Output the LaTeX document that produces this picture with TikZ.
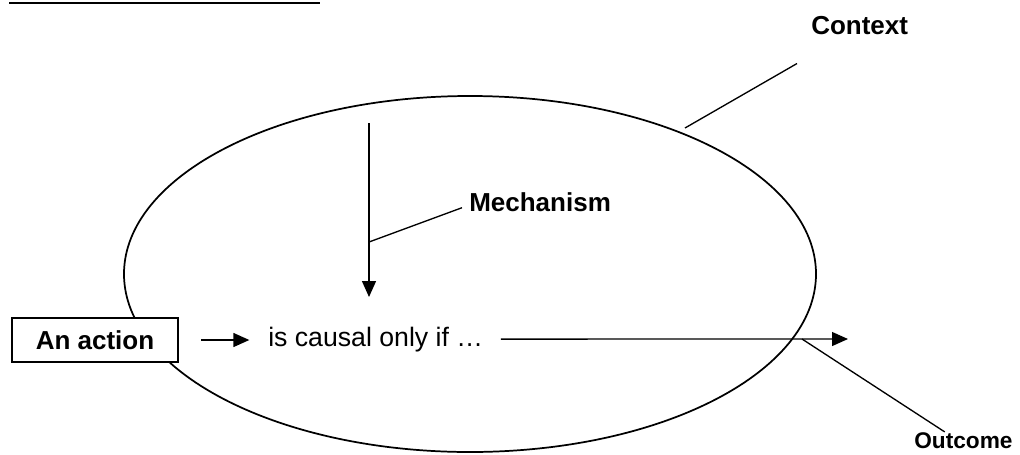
\documentclass[tikz,border=0pt]{standalone}
\usepackage{fontspec}
\setmainfont{Liberation Sans}
\usetikzlibrary{arrows.meta}

\begin{document}
\begin{tikzpicture}[x=0.75pt,y=-0.75pt,
    tag/.style={font=\bfseries\fontsize{19.5}{22}\selectfont, inner sep=0pt, anchor=base west},
    leader/.style={line width=1pt},
    flow/.style={line width=1pt, -{Triangle[length=12pt,width=10.5pt]}}]
\useasboundingbox (0,0) rectangle (1020,454);

% Heading rule (cut off at the top)
\draw[line width=2pt] (9,3) -- (320,3);

% The context
\draw[line width=1.3pt] (470,274) ellipse [x radius=346, y radius=178];
\node[tag] (ctx) at (811,34) {Context};
\draw[leader] (685,128) -- ([shift={(-14,29)}]ctx.south west);

% Action and outcome
\node[draw, line width=1pt, fill=white, minimum width=124.5pt, minimum height=33pt,
      font=\bfseries\fontsize{19.5}{22}\selectfont] (action) at (95,340) {An action};
\node[font=\fontsize{20}{24}\selectfont, inner sep=0pt, anchor=base west] (cause) at (268,346) {is causal only if …};
\draw[flow, shorten <=17pt, shorten >=14pt] (action.east) -- (action.east -| cause.west);
\coordinate (out) at (848,339);
\draw[flow, shorten <=13pt] (cause.east) -- (out);

\node[tag, font=\bfseries\fontsize{17}{20}\selectfont] (outc) at (914,448) {Outcome};
\draw[leader] (802,339) -- ([xshift=-14pt]outc.north);

% Mechanism
\coordinate (mtop) at (369,123);
\coordinate (mbot) at (369,297);
\draw[flow] (mtop) -- (mbot);
\node[tag] (mech) at (469,211) {Mechanism};
\draw[leader] (369,242) -- ([shift={(-7,6)}]mech.west);

\end{tikzpicture}
\end{document}
